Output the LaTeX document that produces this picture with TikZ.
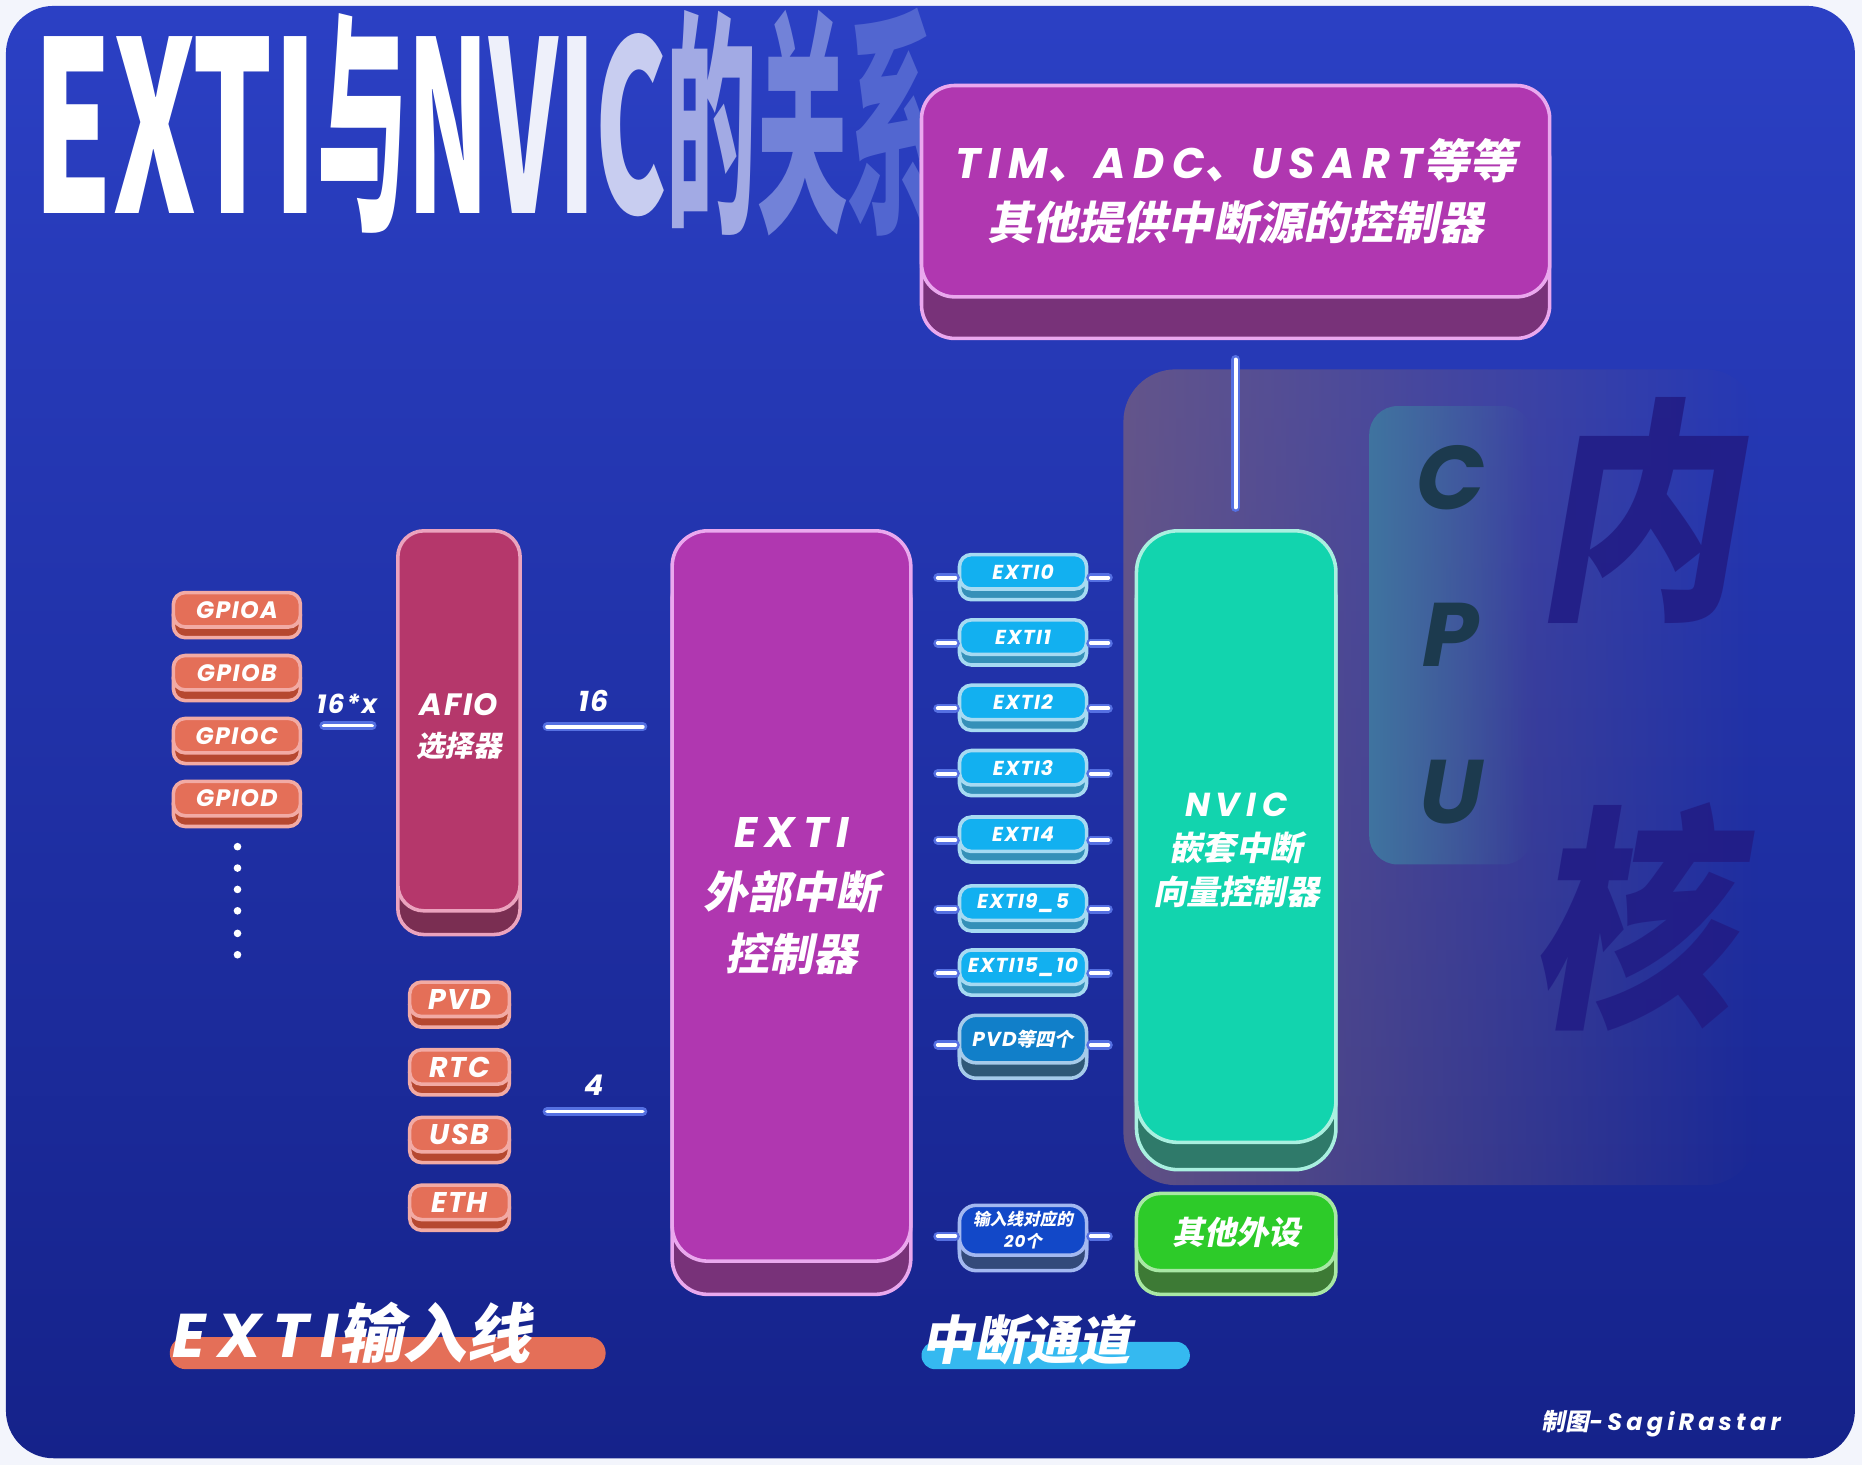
\documentclass[tikz,border=0pt]{standalone}
\usepackage{fontspec}
\setmainfont{Poppins}
\newfontfamily\tech{Poppins}[LetterSpace=6]
\newfontfamily\techw{Poppins}[LetterSpace=18]
\newfontfamily\cjk{Noto Sans CJK SC}[FakeSlant=0.2]
\newfontfamily\cjkup{Noto Sans CJK SC}
\usetikzlibrary{positioning,calc,shadows,fadings}

\definecolor{pagebg}{HTML}{F3F5FC}
\definecolor{bgtop}{HTML}{2B40C4}
\definecolor{bgbot}{HTML}{15228A}
\definecolor{wireblue}{HTML}{5570E2}
\definecolor{pface}{HTML}{B037B0}
\definecolor{pbase}{HTML}{783279}
\definecolor{prim}{HTML}{EAA8EE}
\definecolor{aface}{HTML}{B5376B}
\definecolor{abase}{HTML}{7A2E52}
\definecolor{arim}{HTML}{EBA3BE}
\definecolor{oface}{HTML}{E46F58}
\definecolor{obase}{HTML}{B64830}
\definecolor{orim}{HTML}{F2AAA4}
\definecolor{tface}{HTML}{12D4AE}
\definecolor{tbase}{HTML}{2F7A6A}
\definecolor{trim}{HTML}{A9F0E0}
\definecolor{gface}{HTML}{2DCB29}
\definecolor{gbase}{HTML}{3D7A35}
\definecolor{grim}{HTML}{A8E8A4}
\definecolor{cface}{HTML}{12B0F0}
\definecolor{cbase}{HTML}{3590B8}
\definecolor{crim}{HTML}{A6DAF2}
\definecolor{dface}{HTML}{117FC9}
\definecolor{dbase}{HTML}{2F5877}
\definecolor{drim}{HTML}{A6CBEA}
\definecolor{nface}{HTML}{1248C8}
\definecolor{nbase}{HTML}{334A7A}
\definecolor{nrim}{HTML}{A3B8F0}
\definecolor{corebg}{HTML}{735C80}
\definecolor{cpubg}{HTML}{3F74A0}
\definecolor{cpuink}{HTML}{1C3A4E}
\definecolor{bigink}{HTML}{221D86}
\definecolor{tc0}{HTML}{EEF0FA}
\definecolor{tc1}{HTML}{C8CDF0}
\definecolor{tc2}{HTML}{A2AAE4}
\definecolor{tc3}{HTML}{7282D8}
\definecolor{tc4}{HTML}{5266D0}
\definecolor{pillblue}{HTML}{35B9F0}

\newcommand{\en}{\tech\bfseries\itshape}
\newcommand{\enw}{\techw\bfseries\itshape}
\newcommand{\zh}{\cjk\bfseries}
\newcommand{\fs}[2]{\fontsize{#1}{#2}\selectfont}

\begin{document}
\begin{tikzpicture}[x=0.5pt,y=-0.5pt,
  slab/.style args={#1/#2/#3/#4}{fill=#1,draw=#3,line width=1.5pt,text=white,
    inner sep=0pt,align=center,
    general shadow={fill=#2,draw=#3,line width=1.5pt,shadow yshift=-#4}},
  gpiobox/.style={slab=oface/obase/orim/4.5pt,minimum width=53.5pt,
    minimum height=14.5pt,rounded corners=5pt,font=\en\fs{10}{12}},
  srcbox/.style={gpiobox,minimum width=42pt,font=\en\fs{12}{14}},
  chanbox/.style={slab=cface/cbase/crim/4.5pt,minimum width=53.5pt,
    minimum height=14.5pt,rounded corners=5pt,font=\en\fs{8.5}{10}},
  wire/.style={draw=wireblue,double=white,double distance=1.6pt,
    line width=1.1pt,line cap=round},
  numtag/.style={text=white,inner sep=0pt,font=\en\fs{11}{13}},
  node distance=10.5pt]

% background and cpu core area
\fill[pagebg] (0,0) rectangle (1568,1234);
\shade[top color=bgtop,bottom color=bgbot,rounded corners=20pt] (5,5) rectangle (1562,1228);
\fill[corebg,fill opacity=0.8,rounded corners=22pt,path fading=east] (946,311) rectangle (1480,998);
\fill[cpubg,rounded corners=12pt,path fading=east] (1153,342) rectangle (1290,728);
\node[text=cpuink,font=\en\fs{38}{38}] (cpuc) at (1222,402) {C};
\node[text=cpuink,font=\en\fs{38}{38}] (cpup) at (1222,535) {P};
\node[text=cpuink,font=\en\fs{38}{38}] (cpuu) at (1222,667) {U};
\node[text=bigink,opacity=0.9,font=\zh\fs{100}{100}] (nei) at (1378,430) {\scalebox{0.85}[1]{内}};
\node[text=bigink,opacity=0.9,font=\zh\fs{100}{100}] (he) at (1373,772) {\scalebox{0.85}[1]{核}};

% title
\node[anchor=base west,inner sep=0pt,text=white,font=\cjkup\bfseries\fs{100}{100}] (title) at (28,180)
  {\scalebox{0.53}[1]{EXTI}\scalebox{0.38}[1]{与}\scalebox{0.45}[1]{N\textcolor{tc0}{V}\textcolor{tc0}{I}\textcolor{tc1}{C}}%
   \scalebox{0.38}[1]{\textcolor{tc2}{的}\textcolor{tc3}{关}\textcolor{tc4}{系}}};

% blocks
\node[slab=pface/pbase/prim/17.5pt,minimum width=264.5pt,minimum height=89pt,
  rounded corners=14pt,font=\enw\fs{18}{25.5}] (top) at (1040.5,161)
  {TIM{\zh\fs{19.5}{25.5}、}ADC{\zh\fs{19.5}{25.5}、}USART{\zh\fs{19.5}{25.5}等等}\\
   {\zh\fs{19}{25.5}其他提供中断源的控制器}};
\node[slab=aface/abase/arim/10pt,minimum width=51.5pt,minimum height=160pt,
  rounded corners=11pt] (afio) at (386.5,607) {};
\node[text=white,align=center,font=\en\fs{13}{17}] (afiotext) at (386.5,612)
  {AFIO\\{\zh\fs{12}{17}选择器}};
\node[slab=pface/pbase/prim/14pt,minimum width=100.5pt,minimum height=307.5pt,
  rounded corners=15pt,font=\enw\fs{18}{26}] (exti) at (666.5,754.5)
  {EXTI\\{\zh\fs{18.5}{26}外部中断}\\{\zh\fs{18.5}{26}控制器}};
\node[slab=tface/tbase/trim/11.5pt,minimum width=84pt,minimum height=257.5pt,
  rounded corners=17.5pt] (nvic) at (1041,704.5) {};
\node[text=white,align=center,font=\enw\fs{14}{18.5}] (nvictext) at (1041,716)
  {NVIC\\{\zh\fs{14}{18.5}嵌套中断}\\{\zh\fs{14}{18.5}向量控制器}};
\node[slab=gface/gbase/grim/10pt,minimum width=84pt,minimum height=32.5pt,
  rounded corners=10pt,font=\zh\fs{13.5}{16}] (other) at (1041,1037.5) {其他外设};

% input lines
\node[gpiobox] (gpioa) at (199.5,513.5) {GPIOA};
\node[gpiobox,below=of gpioa] (gpiob) {GPIOB};
\node[gpiobox,below=of gpiob] (gpioc) {GPIOC};
\node[gpiobox,below=of gpioc] (gpiod) {GPIOD};
\foreach \y in {713,731,749,767,786,804} \fill[white] (200,\y) circle (1.6pt);
\node[srcbox] (pvd) at (387,841.5) {PVD};
\node[srcbox,below=12.5pt of pvd] (rtc) {RTC};
\node[srcbox,below=12.5pt of rtc] (usb) {USB};
\node[srcbox,below=12.5pt of usb] (eth) {ETH};

% channels
\node[chanbox] (c0) at (861.5,481.5) {EXTI0};
\node[chanbox,below=11.5pt of c0] (c1) {EXTI1};
\node[chanbox,below=11.5pt of c1] (c2) {EXTI2};
\node[chanbox,below=11.5pt of c2] (c3) {EXTI3};
\node[chanbox,below=12pt of c3] (c4) {EXTI4};
\node[chanbox,below=13pt of c4] (c5) {EXTI9\_5};
\node[chanbox,below=11pt of c5] (c6) {EXTI15\_10};
\node[chanbox,slab=dface/dbase/drim/6.5pt,minimum height=20pt,rounded corners=7pt,
  below=11.5pt of c6] (c7) {PVD{\zh\fs{8}{10}等四个}};
\node[chanbox,slab=nface/nbase/nrim/6.5pt,minimum height=21pt,rounded corners=7pt,
  font=\zh\fs{7}{9.5}] (c8) at (861.5,1036) {输入线对应的\\{\en 20}个};

% connectors
\draw[wire,shorten <=9.1pt,shorten >=10.1pt] (gpiob.east |- 0,611) -- (afio.west |- 0,611);
\draw[wire,shorten <=10.6pt,shorten >=11.6pt] (afio.east |- 0,612) -- (exti.west |- 0,612);
\draw[wire,shorten <=10.6pt,shorten >=11.6pt] (afio.east |- 0,936) -- (exti.west |- 0,936);
\foreach \c in {c0,c1,c2,c3,c4,c5,c6,c7,c8}{
  \coordinate (\c w) at ([yshift=-2.5pt]\c.west);
  \coordinate (\c e) at ([yshift=-2.5pt]\c.east);
  \draw[wire,shorten <=10.6pt,shorten >=1pt] (\c w -| exti.east) -- (\c w);
  \draw[wire,shorten <=1pt,shorten >=11.1pt] (\c e) -- (\c e -| nvic.west);
}
\draw[wire,shorten <=25.6pt,shorten >=9.1pt] (top.south) -- (top.south |- nvic.north);

\node[numtag] (l16x) at (292,593) {16*x};
\node[numtag,font=\en\fs{12}{14}] (l16) at (500,590) {16};
\node[numtag,font=\en\fs{12}{14}] (l4) at (500,914) {4};

% legends
\fill[oface,rounded corners=6.7pt] (143,1126) rectangle (510,1153);
\node[anchor=base west,inner sep=0pt,text=white] (inlab) at (145,1143)
  {{\enw\fs{26}{26}EXTI}{\zh\fs{27}{27}输入线}};
\fill[pillblue,rounded corners=5.7pt] (776,1130) rectangle (1002,1153);
\node[anchor=base west,inner sep=0pt,text=white] (chlab) at (776,1145) {\zh\fs{22}{22}中断通道};
\node[anchor=base west,inner sep=0pt,text=white] (sign) at (1298,1205)
  {{\zh\fs{10}{10}制图}{\enw\fs{10}{10}-SagiRastar}};
\end{tikzpicture}
\end{document}
